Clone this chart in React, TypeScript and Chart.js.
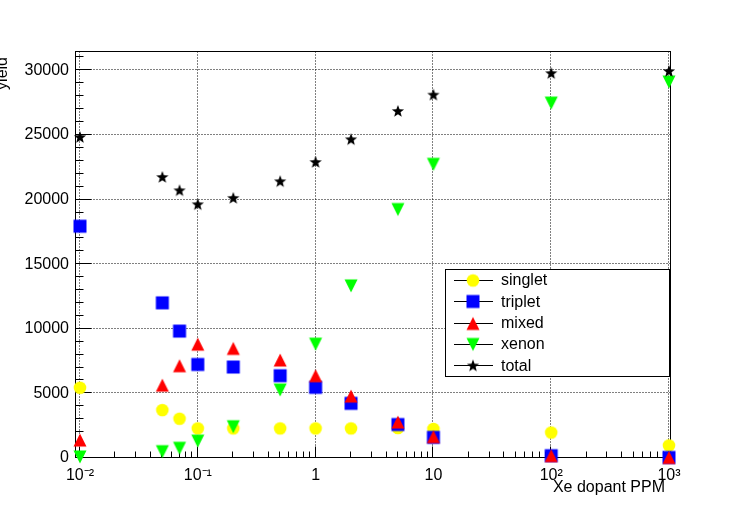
import React, { useEffect, useRef } from "react";
import { Chart, registerables } from "chart.js";

Chart.register(...registerables);

const FONT = "'Liberation Sans', Arial, Helvetica, sans-serif";

// Xe dopant concentration (PPM)
const xPPM = [0.01, 0.05, 0.07, 0.1, 0.2, 0.5, 1, 2, 5, 10, 100, 1000];
const singlet = [5440, 3710, 3040, 2290, 2290, 2290, 2290, 2290, 2320, 2250, 1970, 970];
const triplet = [17940, 12010, 9820, 7240, 7040, 6370, 5470, 4230, 2590, 1600, 180, 40];
const mixed = [1390, 5640, 7140, 8810, 8480, 7580, 6370, 4790, 2780, 1650, 180, 40];
const xenon = [80, 490, 750, 1310, 2420, 5260, 8810, 13320, 19230, 22730, 27470, 29100];
const total = [24840, 21750, 20720, 19640, 20130, 21420, 22910, 24670, 26860, 28120, 29790, 29950];

const xTicks = [0.01, 0.1, 1, 10, 100, 1000];
const xTickLabels = ["10⁻²", "10⁻¹", "1", "10", "10²", "10³"];
const yTicks = [0, 5000, 10000, 15000, 20000, 25000, 30000];

const seriesNames = ["singlet", "triplet", "mixed", "xenon", "total"];
const seriesValues = [singlet, triplet, mixed, xenon, total];
const seriesColors = ["#ffff00", "#0000ff", "#ff0000", "#00ff00", "#000000"];
const seriesShapes = ["circle", "square", "triUp", "triDown", "star"];

const xTitle = "Xe dopant PPM";
const yTitle = "yield";

function makeMarker(shape: string, color: string): HTMLCanvasElement {
  const S = 16;
  const c = document.createElement("canvas");
  c.width = S;
  c.height = S;
  const g = c.getContext("2d")!;
  g.fillStyle = color;
  g.beginPath();
  const m = S / 2;
  const h = 6.5;
  if (shape === "circle") {
    g.arc(m, m, 6.3, 0, Math.PI * 2);
  } else if (shape === "square") {
    g.rect(m - h, m - h, 2 * h, 2 * h);
  } else if (shape === "triUp") {
    g.moveTo(m, m - h);
    g.lineTo(m + h, m + h);
    g.lineTo(m - h, m + h);
    g.closePath();
  } else if (shape === "triDown") {
    g.moveTo(m - h, m - h);
    g.lineTo(m + h, m - h);
    g.lineTo(m, m + h);
    g.closePath();
  } else {
    for (let k = 0; k < 10; k++) {
      const r = k % 2 ? 2.7 : 6.4;
      const a = -Math.PI / 2 + (k * Math.PI) / 5;
      const px = m + r * Math.cos(a);
      const py = m + 0.5 + r * Math.sin(a);
      if (k === 0) g.moveTo(px, py);
      else g.lineTo(px, py);
    }
    g.closePath();
  }
  g.fill();
  return c;
}

export default function App() {
  const canvasRef = useRef<HTMLCanvasElement | null>(null);

  useEffect(() => {
    const canvas = canvasRef.current;
    if (!canvas) return;
    const markers = seriesShapes.map((s, i) => makeMarker(s, seriesColors[i]));

    const rootPlugin = {
      id: "rootFrame",
      beforeDatasetsDraw(chart: any) {
        const { ctx, chartArea: a, scales } = chart;
        const xs = scales.x;
        const ys = scales.y;
        const L = a.left - 0.5;
        const R = a.right - 0.5;
        const T = a.top + 0.5;
        const B = a.bottom - 0.5;
        ctx.save();
        ctx.strokeStyle = "#000";
        ctx.lineWidth = 1;
        // dotted grid
        ctx.setLineDash([1, 2]);
        ctx.beginPath();
        xTicks.forEach((v) => {
          const px = Math.round(xs.getPixelForValue(v)) - 0.5;
          ctx.moveTo(px, T);
          ctx.lineTo(px, B);
        });
        yTicks.forEach((v) => {
          const py = Math.round(ys.getPixelForValue(v)) - 0.5;
          ctx.moveTo(L, py);
          ctx.lineTo(R, py);
        });
        ctx.stroke();
        ctx.setLineDash([]);
        // ticks
        ctx.beginPath();
        for (let n = -3; n <= 3; n++) {
          for (let k = 1; k <= 9; k++) {
            const v = k * Math.pow(10, n);
            if (v < xs.min || v > xs.max) continue;
            const px = Math.round(xs.getPixelForValue(v)) - 0.5;
            const len = k === 1 ? 11 : 6;
            ctx.moveTo(px, B);
            ctx.lineTo(px, B - len);
          }
        }
        for (let v = 0; v <= ys.max; v += 1000) {
          const py = Math.round(ys.getPixelForValue(v)) - 0.5;
          const len = v % 5000 === 0 ? 16 : 8;
          ctx.moveTo(L, py);
          ctx.lineTo(L + len, py);
        }
        ctx.stroke();
        // frame
        ctx.strokeRect(L, T, R - L, B - T);
        ctx.restore();
      },
      afterDraw(chart: any) {
        const { ctx } = chart;
        ctx.save();
        ctx.fillStyle = "#000";
        ctx.font = `16px ${FONT}`;
        // axis titles
        ctx.textAlign = "right";
        ctx.textBaseline = "alphabetic";
        ctx.fillText(xTitle, 665, 492);
        ctx.save();
        ctx.translate(7, 57);
        ctx.rotate(-Math.PI / 2);
        ctx.textAlign = "right";
        ctx.fillText(yTitle, 0, 0);
        ctx.restore();
        // legend
        const lx = 445.5, ly = 269.5, lw = 224, lh = 107;
        ctx.fillStyle = "#fff";
        ctx.fillRect(lx, ly, lw, lh);
        ctx.strokeStyle = "#000";
        ctx.lineWidth = 1;
        ctx.strokeRect(lx, ly, lw, lh);
        ctx.textAlign = "left";
        ctx.textBaseline = "middle";
        seriesNames.forEach((name, i) => {
          const cy = 280 + i * 21.3;
          const yy = Math.round(cy) + 0.5;
          ctx.strokeStyle = "#000";
          ctx.beginPath();
          ctx.moveTo(454, yy);
          ctx.lineTo(493, yy);
          ctx.stroke();
          const mk = markers[i];
          ctx.drawImage(mk, 473 - mk.width / 2, Math.round(cy) - mk.height / 2 + 0.5);
          ctx.fillStyle = "#000";
          ctx.fillText(name, 501, cy + 1);
        });
        ctx.restore();
      },
    };

    const datasets = seriesNames.map((name, i) => ({
      label: name,
      data: xPPM.map((x, j) => ({ x, y: seriesValues[i][j] })),
      pointStyle: markers[i],
      pointRadius: 7,
      pointHoverRadius: 7,
      backgroundColor: seriesColors[i],
      borderColor: seriesColors[i],
      showLine: false,
      clip: false as any,
      order: seriesNames.length - i,
    }));

    const chart = new Chart(canvas, {
      type: "scatter",
      data: { datasets },
      options: {
        animation: false,
        responsive: false,
        devicePixelRatio: 1,
        layout: { padding: { left: 0, right: 76, top: 51, bottom: 0 } },
        plugins: {
          legend: { display: false },
          tooltip: { enabled: false },
        },
        scales: {
          x: {
            type: "logarithmic",
            min: 0.00925,
            max: 1040,
            grid: { display: false, drawTicks: false },
            border: { display: false },
            afterBuildTicks: (s: any) => {
              s.ticks = xTicks.map((v) => ({ value: v }));
            },
            afterFit: (s: any) => {
              s.height = 51;
            },
            ticks: {
              autoSkip: false,
              maxRotation: 0,
              minRotation: 0,
              padding: 8,
              color: "#000",
              font: { family: FONT, size: 16 },
              callback: (value: any) => {
                const idx = xTicks.findIndex((t) => Math.abs(t - Number(value)) / t < 1e-6);
                return idx >= 0 ? xTickLabels[idx] : "";
              },
            },
          },
          y: {
            type: "linear",
            min: 0,
            max: 31500,
            grid: { display: false, drawTicks: false },
            border: { display: false },
            afterBuildTicks: (s: any) => {
              s.ticks = yTicks.map((v) => ({ value: v }));
            },
            afterFit: (s: any) => {
              s.width = 76;
            },
            ticks: {
              padding: 7,
              color: "#000",
              font: { family: FONT, size: 16 },
              callback: (value: any) => String(value),
            },
          },
        },
      },
      plugins: [rootPlugin],
    });

    return () => {
      chart.destroy();
    };
  }, []);

  return (
    <div style={{ position: "absolute", left: 0, top: 0, width: 747, height: 509, background: "#fff" }}>
      <canvas ref={canvasRef} width={747} height={509} style={{ width: 747, height: 509 }} />
    </div>
  );
}
